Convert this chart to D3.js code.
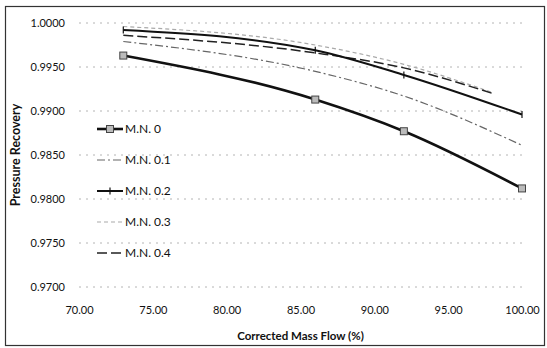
<!DOCTYPE html>
<html>
<head>
<meta charset="utf-8">
<script src="https://cdn.jsdelivr.net/npm/d3@7"></script>
<style>
  html, body { margin: 0; padding: 0; background: #fff; }
  svg { display: block; font-family: Lato, "Open Sans", sans-serif; }
</style>
</head>
<body>
<div id="chart"></div>
<script>
// values
const xTicks = [70, 75, 80, 85, 90, 95, 100];
const yTicks = [0.97, 0.975, 0.98, 0.985, 0.99, 0.995, 1.0];

const seriesNames = ['M.N. 0', 'M.N. 0.1', 'M.N. 0.2', 'M.N. 0.3', 'M.N. 0.4'];

const flowMN0 = [73, 86, 92, 100];
const recoveryMN0 = [0.9963, 0.9913, 0.9877, 0.9812];

const flowMN01 = [73, 86, 92, 100];
const recoveryMN01 = [0.9979, 0.9945, 0.9917, 0.9861];

const flowMN02 = [73, 86, 92, 100];
const recoveryMN02 = [0.9992, 0.9969, 0.9941, 0.9896];

const flowMN03 = [73, 86, 92, 98];
const recoveryMN03 = [0.9996, 0.9975, 0.9953, 0.9921];

const flowMN04 = [73, 86, 92, 98];
const recoveryMN04 = [0.9986, 0.9966, 0.9949, 0.9920];

const width = 547, height = 348;
const margin = { top: 23, right: 25, bottom: 61, left: 79 };

// line look for each series, same order as seriesNames
const styles = [
  { stroke: '#111', width: 2.6, dash: null, marker: 'square' },
  { stroke: '#666', width: 1.2, dash: '8,3,2,3', marker: null },
  { stroke: '#111', width: 2, dash: null, marker: 'tick' },
  { stroke: '#aaa', width: 1.2, dash: '4,3', marker: null },
  { stroke: '#222', width: 1.5, dash: '10,4', marker: null }
];

const flows = [flowMN0, flowMN01, flowMN02, flowMN03, flowMN04];
const recoveries = [recoveryMN0, recoveryMN01, recoveryMN02, recoveryMN03, recoveryMN04];
const series = seriesNames.map((name, i) => ({
  name,
  style: styles[i],
  points: flows[i].map((x, j) => ({ x, y: recoveries[i][j] }))
}));

const svg = d3.select('#chart').append('svg')
  .attr('width', width)
  .attr('height', height);

// outer chart border
svg.append('rect')
  .attr('x', 5.5).attr('y', 6.5)
  .attr('width', 539).attr('height', 339)
  .attr('fill', 'none')
  .attr('stroke', '#333')
  .attr('stroke-width', 1.2);

const x = d3.scaleLinear()
  .domain([70, 100])
  .range([margin.left, width - margin.right]);

const y = d3.scaleLinear()
  .domain([0.97, 1.0])
  .range([height - margin.bottom, margin.top]);

// horizontal gridlines (faint, broken up like the scan)
svg.append('g')
  .attr('class', 'grid')
  .selectAll('line')
  .data(yTicks)
  .join('line')
  .attr('x1', x(70)).attr('x2', x(100))
  .attr('y1', d => y(d)).attr('y2', d => y(d))
  .attr('stroke', '#b4b4b4')
  .attr('stroke-width', 1)
  .attr('stroke-dasharray', '2,5');

// y axis labels
const yAxis = svg.append('g')
  .attr('transform', `translate(${x(70)},0)`)
  .call(d3.axisLeft(y).tickValues(yTicks).tickFormat(d3.format('.4f')).tickSize(0).tickPadding(14));
yAxis.select('.domain').remove();
yAxis.selectAll('text').attr('font-size', 11).attr('fill', '#111').style('font-family', 'Lato, sans-serif');

// x axis labels
const xAxis = svg.append('g')
  .attr('transform', `translate(0,${y(0.97)})`)
  .call(d3.axisBottom(x).tickValues(xTicks).tickFormat(d3.format('.2f')).tickSize(0).tickPadding(19));
xAxis.select('.domain').remove();
xAxis.selectAll('text').attr('font-size', 11).attr('fill', '#111').style('font-family', 'Lato, sans-serif');

// axis titles
svg.append('text')
  .attr('x', (x(70) + x(100)) / 2)
  .attr('y', 340)
  .attr('text-anchor', 'middle')
  .attr('font-size', 11.5)
  .attr('font-weight', 700)
  .attr('fill', '#111')
  .text('Corrected Mass Flow (%)');

svg.append('text')
  .attr('transform', `translate(20,${(y(0.97) + y(1.0)) / 2}) rotate(-90)`)
  .attr('text-anchor', 'middle')
  .attr('font-size', 12.5)
  .attr('font-weight', 700)
  .attr('fill', '#111')
  .text('Pressure Recovery');

// lines
const line = d3.line()
  .x(d => x(d.x))
  .y(d => y(d.y))
  .curve(d3.curveMonotoneX);

// draw back to front so the solid lines sit on top
const drawOrder = [3, 1, 4, 2, 0];
drawOrder.forEach(i => {
  const s = series[i];
  svg.append('path')
    .datum(s.points)
    .attr('fill', 'none')
    .attr('stroke', s.style.stroke)
    .attr('stroke-width', s.style.width)
    .attr('stroke-dasharray', s.style.dash)
    .attr('d', line);
  drawMarkers(svg, s.points.map(p => [x(p.x), y(p.y)]), s.style.marker);
});

function drawMarkers(g, pts, type) {
  if (type === 'square') {
    g.selectAll(null).data(pts).join('rect')
      .attr('x', d => d[0] - 3.5).attr('y', d => d[1] - 3.5)
      .attr('width', 7).attr('height', 7)
      .attr('fill', '#bbb')
      .attr('stroke', '#444')
      .attr('stroke-width', 1);
  } else if (type === 'tick') {
    g.selectAll(null).data(pts).join('line')
      .attr('x1', d => d[0]).attr('x2', d => d[0])
      .attr('y1', d => d[1] - 3.5).attr('y2', d => d[1] + 3.5)
      .attr('stroke', '#111')
      .attr('stroke-width', 1.2);
  }
}

// legend, inside the plot on the left
const legend = svg.append('g').attr('class', 'legend');
series.forEach((s, i) => {
  const ly = 129 + i * 31;
  const row = legend.append('g');
  row.append('line')
    .attr('x1', 97).attr('x2', 123)
    .attr('y1', ly).attr('y2', ly)
    .attr('stroke', s.style.stroke)
    .attr('stroke-width', s.style.width)
    .attr('stroke-dasharray', s.style.dash);
  drawMarkers(row, [[110, ly]], s.style.marker);
  row.append('text')
    .attr('x', 125)
    .attr('y', ly)
    .attr('dy', '0.35em')
    .attr('font-size', 12)
    .attr('fill', '#111')
    .text(s.name);
});
</script>
</body>
</html>
